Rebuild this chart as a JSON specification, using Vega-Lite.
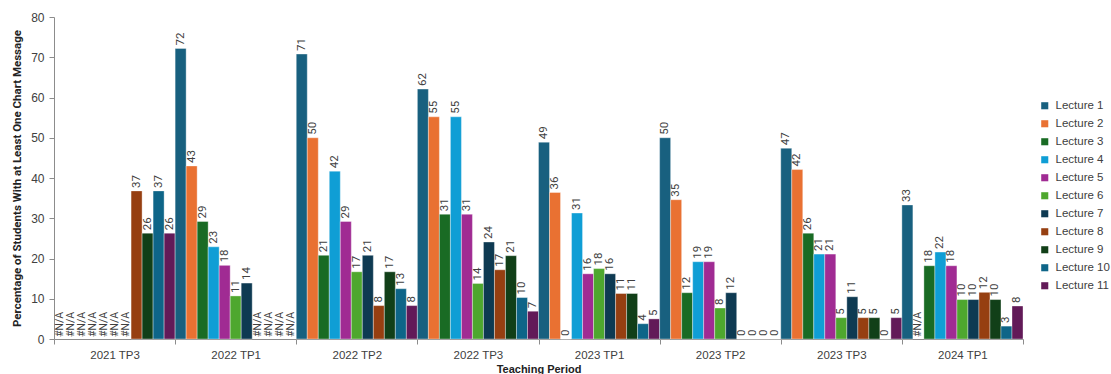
{
  "$schema": "https://vega.github.io/schema/vega-lite/v6.json",
  "width": 969,
  "height": 322,
  "autosize": "none",
  "padding": {"left": 54, "top": 17, "right": 88, "bottom": 35},
  "background": "white",
  "config": {
    "view": {"stroke": null},
    "font": "Liberation Sans",
    "axis": {"labelColor": "#404040", "titleColor": "#222222", "domainColor": "#8c8c8c", "tickColor": "#8c8c8c", "grid": false},
    "axisY": {
      "titleFont": "Roboto",
      "titleFontSize": 11.5,
      "titleFontWeight": "bold",
      "titleX": -37,
      "titleY": 161,
      "titleAlign": "center",
      "titleBaseline": "middle",
      "labelOverlap": false,
      "labelFontSize": 12,
      "labelPadding": 5,
      "tickSize": 5
    }
  },
  "data": {
    "values": [
      {"period": "2021 TP3", "lecture": "Lecture 1", "value": null, "label": "#N/A"},
      {"period": "2021 TP3", "lecture": "Lecture 2", "value": null, "label": "#N/A"},
      {"period": "2021 TP3", "lecture": "Lecture 3", "value": null, "label": "#N/A"},
      {"period": "2021 TP3", "lecture": "Lecture 4", "value": null, "label": "#N/A"},
      {"period": "2021 TP3", "lecture": "Lecture 5", "value": null, "label": "#N/A"},
      {"period": "2021 TP3", "lecture": "Lecture 6", "value": null, "label": "#N/A"},
      {"period": "2021 TP3", "lecture": "Lecture 7", "value": null, "label": "#N/A"},
      {"period": "2021 TP3", "lecture": "Lecture 8", "value": 36.8, "label": "37"},
      {"period": "2021 TP3", "lecture": "Lecture 9", "value": 26.3, "label": "26"},
      {"period": "2021 TP3", "lecture": "Lecture 10", "value": 36.8, "label": "37"},
      {"period": "2021 TP3", "lecture": "Lecture 11", "value": 26.3, "label": "26"},
      {"period": "2022 TP1", "lecture": "Lecture 1", "value": 72.2, "label": "72"},
      {"period": "2022 TP1", "lecture": "Lecture 2", "value": 43.0, "label": "43"},
      {"period": "2022 TP1", "lecture": "Lecture 3", "value": 29.2, "label": "29"},
      {"period": "2022 TP1", "lecture": "Lecture 4", "value": 22.9, "label": "23"},
      {"period": "2022 TP1", "lecture": "Lecture 5", "value": 18.3, "label": "18"},
      {"period": "2022 TP1", "lecture": "Lecture 6", "value": 10.7, "label": "11"},
      {"period": "2022 TP1", "lecture": "Lecture 7", "value": 13.9, "label": "14"},
      {"period": "2022 TP1", "lecture": "Lecture 8", "value": null, "label": "#N/A"},
      {"period": "2022 TP1", "lecture": "Lecture 9", "value": null, "label": "#N/A"},
      {"period": "2022 TP1", "lecture": "Lecture 10", "value": null, "label": "#N/A"},
      {"period": "2022 TP1", "lecture": "Lecture 11", "value": null, "label": "#N/A"},
      {"period": "2022 TP2", "lecture": "Lecture 1", "value": 70.8, "label": "71"},
      {"period": "2022 TP2", "lecture": "Lecture 2", "value": 50.0, "label": "50"},
      {"period": "2022 TP2", "lecture": "Lecture 3", "value": 20.8, "label": "21"},
      {"period": "2022 TP2", "lecture": "Lecture 4", "value": 41.7, "label": "42"},
      {"period": "2022 TP2", "lecture": "Lecture 5", "value": 29.2, "label": "29"},
      {"period": "2022 TP2", "lecture": "Lecture 6", "value": 16.7, "label": "17"},
      {"period": "2022 TP2", "lecture": "Lecture 7", "value": 20.8, "label": "21"},
      {"period": "2022 TP2", "lecture": "Lecture 8", "value": 8.3, "label": "8"},
      {"period": "2022 TP2", "lecture": "Lecture 9", "value": 16.7, "label": "17"},
      {"period": "2022 TP2", "lecture": "Lecture 10", "value": 12.5, "label": "13"},
      {"period": "2022 TP2", "lecture": "Lecture 11", "value": 8.3, "label": "8"},
      {"period": "2022 TP3", "lecture": "Lecture 1", "value": 62.1, "label": "62"},
      {"period": "2022 TP3", "lecture": "Lecture 2", "value": 55.2, "label": "55"},
      {"period": "2022 TP3", "lecture": "Lecture 3", "value": 31.0, "label": "31"},
      {"period": "2022 TP3", "lecture": "Lecture 4", "value": 55.2, "label": "55"},
      {"period": "2022 TP3", "lecture": "Lecture 5", "value": 31.0, "label": "31"},
      {"period": "2022 TP3", "lecture": "Lecture 6", "value": 13.8, "label": "14"},
      {"period": "2022 TP3", "lecture": "Lecture 7", "value": 24.1, "label": "24"},
      {"period": "2022 TP3", "lecture": "Lecture 8", "value": 17.2, "label": "17"},
      {"period": "2022 TP3", "lecture": "Lecture 9", "value": 20.7, "label": "21"},
      {"period": "2022 TP3", "lecture": "Lecture 10", "value": 10.3, "label": "10"},
      {"period": "2022 TP3", "lecture": "Lecture 11", "value": 6.9, "label": "7"},
      {"period": "2023 TP1", "lecture": "Lecture 1", "value": 48.9, "label": "49"},
      {"period": "2023 TP1", "lecture": "Lecture 2", "value": 36.4, "label": "36"},
      {"period": "2023 TP1", "lecture": "Lecture 3", "value": 0, "label": "0"},
      {"period": "2023 TP1", "lecture": "Lecture 4", "value": 31.3, "label": "31"},
      {"period": "2023 TP1", "lecture": "Lecture 5", "value": 16.2, "label": "16"},
      {"period": "2023 TP1", "lecture": "Lecture 6", "value": 17.5, "label": "18"},
      {"period": "2023 TP1", "lecture": "Lecture 7", "value": 16.2, "label": "16"},
      {"period": "2023 TP1", "lecture": "Lecture 8", "value": 11.3, "label": "11"},
      {"period": "2023 TP1", "lecture": "Lecture 9", "value": 11.3, "label": "11"},
      {"period": "2023 TP1", "lecture": "Lecture 10", "value": 3.8, "label": "4"},
      {"period": "2023 TP1", "lecture": "Lecture 11", "value": 5.0, "label": "5"},
      {"period": "2023 TP2", "lecture": "Lecture 1", "value": 50.0, "label": "50"},
      {"period": "2023 TP2", "lecture": "Lecture 2", "value": 34.6, "label": "35"},
      {"period": "2023 TP2", "lecture": "Lecture 3", "value": 11.5, "label": "12"},
      {"period": "2023 TP2", "lecture": "Lecture 4", "value": 19.2, "label": "19"},
      {"period": "2023 TP2", "lecture": "Lecture 5", "value": 19.2, "label": "19"},
      {"period": "2023 TP2", "lecture": "Lecture 6", "value": 7.7, "label": "8"},
      {"period": "2023 TP2", "lecture": "Lecture 7", "value": 11.5, "label": "12"},
      {"period": "2023 TP2", "lecture": "Lecture 8", "value": 0, "label": "0"},
      {"period": "2023 TP2", "lecture": "Lecture 9", "value": 0, "label": "0"},
      {"period": "2023 TP2", "lecture": "Lecture 10", "value": 0, "label": "0"},
      {"period": "2023 TP2", "lecture": "Lecture 11", "value": 0, "label": "0"},
      {"period": "2023 TP3", "lecture": "Lecture 1", "value": 47.4, "label": "47"},
      {"period": "2023 TP3", "lecture": "Lecture 2", "value": 42.1, "label": "42"},
      {"period": "2023 TP3", "lecture": "Lecture 3", "value": 26.3, "label": "26"},
      {"period": "2023 TP3", "lecture": "Lecture 4", "value": 21.1, "label": "21"},
      {"period": "2023 TP3", "lecture": "Lecture 5", "value": 21.1, "label": "21"},
      {"period": "2023 TP3", "lecture": "Lecture 6", "value": 5.3, "label": "5"},
      {"period": "2023 TP3", "lecture": "Lecture 7", "value": 10.5, "label": "11"},
      {"period": "2023 TP3", "lecture": "Lecture 8", "value": 5.3, "label": "5"},
      {"period": "2023 TP3", "lecture": "Lecture 9", "value": 5.3, "label": "5"},
      {"period": "2023 TP3", "lecture": "Lecture 10", "value": 0, "label": "0"},
      {"period": "2023 TP3", "lecture": "Lecture 11", "value": 5.3, "label": "5"},
      {"period": "2024 TP1", "lecture": "Lecture 1", "value": 33.3, "label": "33"},
      {"period": "2024 TP1", "lecture": "Lecture 2", "value": null, "label": "#N/A"},
      {"period": "2024 TP1", "lecture": "Lecture 3", "value": 18.2, "label": "18"},
      {"period": "2024 TP1", "lecture": "Lecture 4", "value": 21.6, "label": "22"},
      {"period": "2024 TP1", "lecture": "Lecture 5", "value": 18.2, "label": "18"},
      {"period": "2024 TP1", "lecture": "Lecture 6", "value": 9.8, "label": "10"},
      {"period": "2024 TP1", "lecture": "Lecture 7", "value": 9.8, "label": "10"},
      {"period": "2024 TP1", "lecture": "Lecture 8", "value": 11.6, "label": "12"},
      {"period": "2024 TP1", "lecture": "Lecture 9", "value": 9.8, "label": "10"},
      {"period": "2024 TP1", "lecture": "Lecture 10", "value": 3.2, "label": "3"},
      {"period": "2024 TP1", "lecture": "Lecture 11", "value": 8.2, "label": "8"}
    ]
  },
  "encoding": {
    "x": {
      "field": "period",
      "type": "nominal",
      "sort": null,
      "scale": {"paddingInner": 0, "paddingOuter": 0},
      "axis": {
        "title": "Teaching Period",
        "titleFontWeight": "bold",
        "titleFontSize": 11,
        "titlePadding": 3,
        "labelAngle": 0,
        "labelFontSize": 11.5,
        "labelPadding": 5,
        "tickBand": "extent",
        "tickSize": 5,
        "domainColor": "#8c8c8c"
      }
    },
    "xOffset": {
      "field": "lecture",
      "type": "nominal",
      "sort": ["Lecture 1", "Lecture 2", "Lecture 3", "Lecture 4", "Lecture 5", "Lecture 6", "Lecture 7", "Lecture 8", "Lecture 9", "Lecture 10", "Lecture 11"],
      "scale": {"paddingInner": 0, "paddingOuter": 0}
    }
  },
  "layer": [
    {
      "mark": {"type": "bar", "stroke": "#ffffff", "strokeWidth": 0.6, "strokeOpacity": 0.6},
      "encoding": {
        "y": {
          "field": "value",
          "type": "quantitative",
          "scale": {"domain": [0, 80], "nice": false},
          "axis": {"title": "Percentage of Students With at Least One Chart Message", "values": [0, 10, 20, 30, 40, 50, 60, 70, 80]}
        },
        "color": {
          "field": "lecture",
          "type": "nominal",
          "scale": {
            "domain": ["Lecture 1", "Lecture 2", "Lecture 3", "Lecture 4", "Lecture 5", "Lecture 6", "Lecture 7", "Lecture 8", "Lecture 9", "Lecture 10", "Lecture 11"],
            "range": ["#18607F", "#E97132", "#196B24", "#0F9ED5", "#A02B93", "#4EA72E", "#0E3A52", "#963F11", "#113F18", "#0E6588", "#621A58"]
          },
          "legend": {
            "title": null,
            "orient": "none",
            "legendX": 985,
            "legendY": 83,
            "symbolType": "square",
            "symbolSize": 50,
            "symbolStrokeWidth": 0,
            "labelFontSize": 11.5,
            "labelColor": "#404040",
            "labelOffset": 5,
            "rowPadding": 5
          }
        }
      }
    },
    {
      "transform": [{"filter": "datum.value !== null"}],
      "mark": {"type": "text", "angle": 270, "align": "left", "baseline": "middle", "dx": 3, "font": "Roboto", "fontSize": 11.5, "color": "#404040"},
      "encoding": {
        "y": {
          "field": "value",
          "type": "quantitative",
          "scale": {"domain": [0, 80], "nice": false},
          "axis": {"title": "Percentage of Students With at Least One Chart Message", "values": [0, 10, 20, 30, 40, 50, 60, 70, 80]}
        },
        "text": {"field": "label"}
      }
    },
    {
      "transform": [{"filter": "datum.value === null"}],
      "mark": {"type": "text", "angle": 270, "align": "left", "baseline": "middle", "dx": 2, "font": "Roboto", "fontSize": 10.5, "color": "#404040"},
      "encoding": {
        "y": {
          "datum": 0,
          "type": "quantitative",
          "scale": {"domain": [0, 80], "nice": false},
          "axis": {"title": "Percentage of Students With at Least One Chart Message", "values": [0, 10, 20, 30, 40, 50, 60, 70, 80]}
        },
        "text": {"field": "label"}
      }
    }
  ]
}
